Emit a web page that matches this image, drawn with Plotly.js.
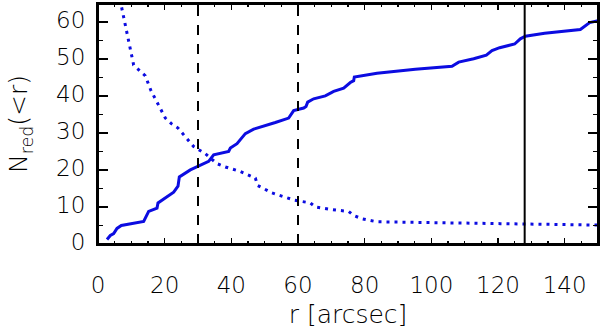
<!DOCTYPE html>
<html>
<head>
<meta charset="utf-8">
<script src="https://cdn.plot.ly/plotly-3.0.1.min.js"></script>
<style>
  html, body { margin: 0; padding: 0; background: #ffffff; }
  #chart { width: 600px; height: 331px; }
</style>
</head>
<body>
<div id="chart"></div>
<script>
// cumulative counts of red galaxies inside radius r (solid)
const cumR = [2.7, 3.7, 4.7, 5.7, 7, 13.7, 15.2, 17.7, 18, 20.7, 22.7, 24, 24.4, 27.7, 29.7,
    33.2, 34.7, 39.2, 39.7, 41.7, 44.2, 46.7, 53.2, 57.2, 58.7, 61.7, 62.4, 62.9, 64.7, 68.2,
    70.7, 73.7, 75.7, 76.7, 76.9, 83.7, 95.2, 106.2, 108.2, 112.7, 116.5, 118.2, 120.5, 125.0,
    126.7, 128.2, 134.0, 144.7, 147.5, 150];
const cumN = [1.2, 2.3, 2.8, 4.2, 5, 6.1, 8.8, 9.7, 11.1, 12.9, 14, 15.6, 18.1, 20, 20.8,
    22.3, 24.1, 25, 25.9, 27.1, 29.8, 31, 32.8, 34, 36, 36.7, 37.1, 38.3, 39.2, 40,
    41.2, 42.1, 43.6, 44.1, 45.1, 46.1, 47.2, 48.0, 49.1, 50.0, 51.0, 52.2, 53.0, 54.0,
    55.4, 56.1, 56.9, 57.9, 59.8, 60.3];

// background expectation (dotted)
const bgR = [6.6, 10.7, 12.5, 14.2, 15.9, 20.2, 22, 24, 28.7, 32.2, 35.7, 38.2, 42.7, 47.2,
    47.9, 52.2, 59, 63.7, 65.2, 70, 75.2, 76.7, 79.2, 83.7, 120.7, 150];
const bgN = [66, 48.3, 46.8, 45.4, 41.4, 34, 32.5, 31.3, 26.3, 24.4, 21.7, 20.8, 19.6, 17.8,
    15.8, 13.8, 11.8, 11.1, 10, 9.3, 8.8, 7.7, 6.8, 6.0, 5.5, 5.1];

// vertical reference radii
const dashedRadii = [30, 60];
const solidRadii = [128];

const xTicks = [0, 20, 40, 60, 80, 100, 120, 140];
const yTicks = [0, 10, 20, 30, 40, 50, 60];
const xRange = [0, 150];
const yRange = [0, 64.8];

const blue = 'rgb(12,12,225)';
const fontFamily = '"DejaVu Sans", sans-serif';
const tickFont = { family: fontFamily, size: 23, weight: 200, color: '#000000' };
const titleFont = { family: fontFamily, size: 25, weight: 200, color: '#000000' };

const data = [
    {
        x: cumR, y: cumN,
        type: 'scatter', mode: 'lines',
        line: { color: blue, width: 3 }
    },
    {
        x: bgR, y: bgN,
        type: 'scatter', mode: 'lines',
        line: { color: blue, width: 3, dash: '3px,5px' }
    }
];

// plot frame (box around the axes)
const shapes = [{
    type: 'rect', xref: 'paper', yref: 'paper',
    x0: 0, x1: 1, y0: 0, y1: 1,
    line: { color: 'black', width: 2 },
    fillcolor: 'rgba(0,0,0,0)'
}];
dashedRadii.forEach(r => {
    shapes.push({
        type: 'line', xref: 'x', yref: 'paper',
        x0: r, x1: r, y0: 0, y1: 1,
        line: { color: 'black', width: 2, dash: '10px,9px' }
    });
});
solidRadii.forEach(r => {
    shapes.push({
        type: 'line', xref: 'x', yref: 'paper',
        x0: r, x1: r, y0: 0, y1: 1,
        line: { color: 'black', width: 2 }
    });
});

const layout = {
    width: 600,
    height: 331,
    paper_bgcolor: '#ffffff',
    plot_bgcolor: '#ffffff',
    showlegend: false,
    margin: { l: 98, r: 2, t: 4, b: 87 },
    font: { family: fontFamily, size: 23, color: '#000000', weight: 200 },
    xaxis: {
        range: xRange,
        tickvals: xTicks,
        ticks: 'inside',
        ticklen: 6,
        tickwidth: 1.5,
        tickcolor: 'black',
        minor: { dtick: 5, ticks: 'inside', ticklen: 3, tickwidth: 1.5, tickcolor: 'black' },
        showline: true,
        linecolor: 'black',
        linewidth: 2,
        mirror: 'allticks',
        showgrid: false,
        zeroline: false,
        automargin: false,
        ticklabelstandoff: 19,
        tickfont: tickFont,
        title: { text: 'r [arcsec]', font: titleFont, standoff: 9 }
    },
    yaxis: {
        range: yRange,
        tickvals: yTicks,
        ticks: 'inside',
        ticklen: 10,
        tickwidth: 1.5,
        tickcolor: 'black',
        minor: { dtick: 5, ticks: 'inside', ticklen: 5, tickwidth: 1.5, tickcolor: 'black' },
        showline: true,
        linecolor: 'black',
        linewidth: 2,
        mirror: 'allticks',
        showgrid: false,
        zeroline: false,
        automargin: false,
        ticklabelshift: -2,
        ticklabelstandoff: 6,
        tickfont: tickFont,
        title: { text: 'N<sub>red</sub>(&lt;r)', font: titleFont, standoff: 21 }
    },
    shapes: shapes
};

Plotly.newPlot('chart', data, layout, { displayModeBar: false, staticPlot: true });
</script>
</body>
</html>
